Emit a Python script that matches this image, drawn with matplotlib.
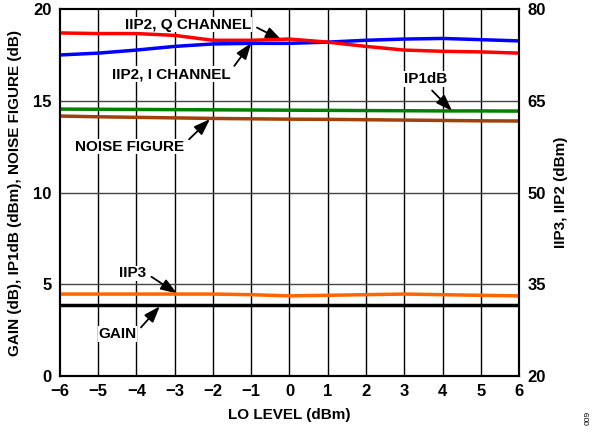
import matplotlib
matplotlib.use('Agg')
import matplotlib.pyplot as plt

plt.rcParams['font.family'] = ['Liberation Sans', 'DejaVu Sans']
plt.rcParams['font.weight'] = 'bold'

lo_level = [-6, -5, -4, -3, -2, -1, 0, 1, 2, 3, 4, 5, 6]

# right axis (dBm)
iip2_q = [76.1, 76.0, 76.0, 75.7, 74.9, 74.9, 75.1, 74.6, 73.9, 73.3, 73.1, 73.0, 72.8]
iip2_i = [72.5, 72.8, 73.3, 73.9, 74.3, 74.4, 74.4, 74.6, 74.9, 75.1, 75.2, 75.0, 74.8]
iip3 = [33.4, 33.4, 33.4, 33.4, 33.4, 33.3, 33.1, 33.2, 33.3, 33.4, 33.3, 33.2, 33.1]

# left axis
ip1db = [14.55, 14.54, 14.53, 14.52, 14.51, 14.5, 14.49, 14.48, 14.47, 14.46, 14.45, 14.45, 14.44]
noise_fig = [14.17, 14.13, 14.1, 14.07, 14.04, 14.02, 14.0, 13.99, 13.97, 13.95, 13.93, 13.91, 13.9]
gain = [3.87, 3.87, 3.87, 3.87, 3.87, 3.87, 3.87, 3.87, 3.87, 3.87, 3.87, 3.87, 3.87]

fig = plt.figure(figsize=(5.95, 4.33), dpi=100)
ax = fig.add_axes([0.1008, 0.1316, 0.7715, 0.8474])
ax2 = ax.twinx()

for v in range(-5, 6):
    ax.axvline(v, color='black', lw=1.0, zorder=0)
for h in [5, 10, 15]:
    ax.axhline(h, color='#444444', lw=1.0, zorder=0)

ax.plot(lo_level, ip1db, color='#008000', lw=2.5)
ax.plot(lo_level, noise_fig, color='#a0400a', lw=2.5)
ax.plot(lo_level, gain, color='black', lw=2.5)
ax2.plot(lo_level, iip3, color='#ff6600', lw=2.5)
ax2.plot(lo_level, iip2_i, color='#0000ff', lw=2.5)
ax2.plot(lo_level, iip2_q, color='#ff0000', lw=2.5)

ax.set_xlim(-6, 6)
ax.set_ylim(0, 20)
ax2.set_ylim(20, 80)
ax.set_xticks(lo_level)
ax.set_xticklabels([str(v).replace('-', '\u2212') for v in lo_level])
ax.set_yticks([0, 5, 10, 15, 20])
ax2.set_yticks([20, 35, 50, 65, 80])
for a in (ax, ax2):
    a.tick_params(length=0, labelsize=12, pad=6)
    for s in a.spines.values():
        s.set_linewidth(1.5)

ax.set_xlabel('LO LEVEL (dBm)', fontsize=11, fontweight='bold', labelpad=6)
ax.set_ylabel('GAIN (dB), IP1dB (dBm), NOISE FIGURE (dB)', fontsize=11, fontweight='bold', labelpad=8)
ax2.set_ylabel('IIP3, IIP2 (dBm)', fontsize=11, fontweight='bold', labelpad=6)


def label(text, tip, pos, ha, relpos):
    ax.annotate(text, xy=tip, xytext=pos, ha=ha, va='center',
                fontsize=11, fontweight='bold',
                bbox=dict(facecolor='white', edgecolor='none', pad=0.5),
                arrowprops=dict(arrowstyle='-|>,head_length=0.7,head_width=0.25',
                                color='black', lw=1.3, mutation_scale=14,
                                relpos=relpos, shrinkA=4, shrinkB=0))


label('IIP2, Q CHANNEL', (-0.2, 18.3), (-1.0, 19.15), 'right', (1, 0.5))
label('IIP2, I CHANNEL', (-1.0, 18.15), (-1.55, 16.45), 'right', (1, 0.7))
label('IP1dB', (4.25, 14.45), (3.55, 16.2), 'center', (0.55, 0))
label('NOISE FIGURE', (-2.08, 14.0), (-2.75, 12.5), 'right', (1, 0.7))
label('IIP3', (-2.94, 4.5), (-3.75, 5.6), 'right', (1, 0.5))
label('GAIN', (-3.39, 3.8), (-4.0, 2.3), 'right', (1, 0.6))

fig.text(0.988, 0.035, '009', rotation=90, fontsize=6, fontweight='normal',
         ha='center', va='center')

fig.savefig('out.png', dpi=100)
